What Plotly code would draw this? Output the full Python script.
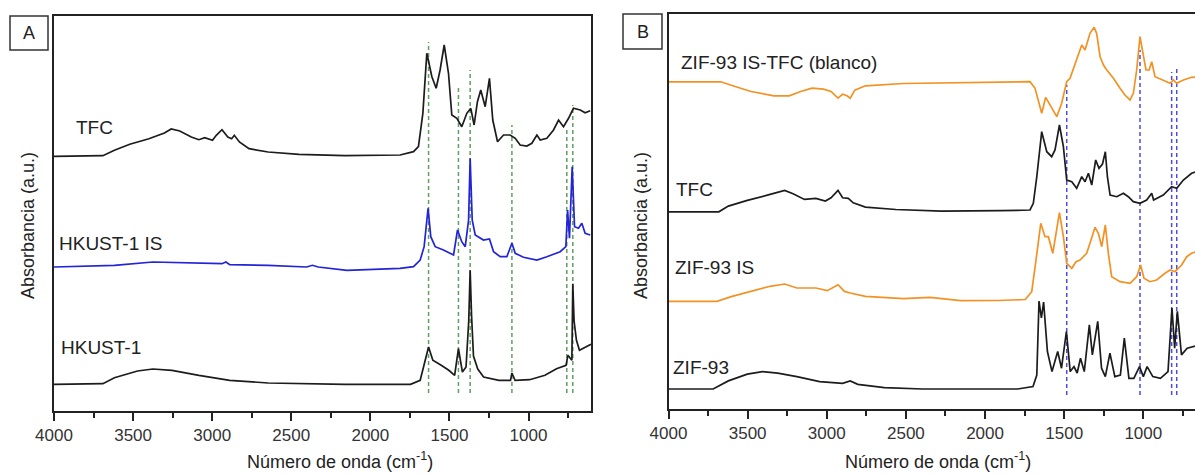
import plotly.graph_objects as go

# ---------------- Panel A data (wavenumber cm-1, absorbance a.u. offset) ----------------
tfc_a_wn = [4000, 3691, 3618, 3521, 3400, 3302, 3259, 3205, 3132, 3084, 3047, 2998, 2974, 2938, 2901, 2877,
            2860, 2828, 2767, 2646, 2451, 2160, 1812, 1727, 1696, 1668, 1643, 1611, 1584, 1559, 1533, 1506,
            1485, 1453, 1422, 1390, 1365, 1344, 1323, 1302, 1274, 1247, 1226, 1196, 1158, 1116, 1084, 1053,
            1011, 979, 947, 926, 884, 842, 810, 779, 747, 716, 673, 642, 610]
tfc_a_abs = [254.7, 255.3, 260.7, 266.7, 272.3, 278, 282, 280, 274, 271.3, 273.3, 270.7, 275.7, 281.3, 274, 272.3,
             275.7, 269, 262.3, 259, 256.7, 255.3, 256, 259.3, 264.3, 297.7, 357.7, 334.3, 322.7, 341, 366, 337.7,
             296, 292.7, 284.3, 297.7, 302.7, 286, 309.3, 321, 304.3, 332.7, 291, 269.3, 276, 276, 272.7, 266,
             265, 267.7, 276, 271, 272.7, 281, 291, 284.3, 292.7, 302.7, 301, 298.3, 300.3]

hk_is_wn = [4000, 3618, 3375, 3132, 2938, 2913, 2889, 2646, 2403, 2366, 2330, 2148, 1917, 1812, 1727, 1685,
            1660, 1635, 1618, 1590, 1538, 1474, 1449, 1422, 1400, 1379, 1369, 1356, 1337, 1285, 1247, 1221,
            1179, 1137, 1105, 1084, 1032, 947, 884, 800, 764, 753, 741, 724, 709, 684, 663, 642, 610]
hk_is_abs = [144, 145.7, 149, 148, 147.3, 149, 146.3, 145.7, 144, 145.7, 144, 140.7, 142.3, 142.7, 144.3, 151,
             164.3, 202.7, 174.3, 164.3, 161, 156, 181, 169.3, 164.3, 191, 252.7, 191, 176, 171, 172, 159.3,
             154.3, 154.3, 167.7, 157.7, 153.7, 151, 154.3, 159.3, 164.3, 201, 172.7, 244.3, 184.3, 182.7, 187.7, 177.7, 176]

hk_wn = [4000, 3691, 3618, 3472, 3375, 3254, 3084, 2889, 2646, 2354, 2160, 1746, 1685, 1632, 1605, 1552,
         1504, 1467, 1443, 1418, 1395, 1378, 1369, 1360, 1348, 1321, 1284, 1187, 1114, 1105, 1085, 993,
         896, 823, 763, 751, 726, 720, 712, 697, 678, 605]
hk_abs = [26.7, 27.3, 33.3, 40, 42, 40.7, 35.7, 30.7, 28, 27.3, 26.7, 26.7, 30.7, 64, 50.7, 45.7,
          40.7, 35.7, 62.3, 39, 44, 90, 140.7, 95, 55, 42, 34, 30.7, 30.7, 38, 30.7, 31.3,
          35.7, 42.3, 45.7, 55.7, 50.7, 127.3, 90, 70.7, 60.7, 66.7]

lines_a_wn = [1632, 1443, 1369, 1105, 758, 720]
lines_a_top = [369, 323, 341, 286, 284, 306]
lines_a_bottom = 18

# ---------------- Panel B data ----------------
zis_tfc_wn = [4000, 3670, 3574, 3478, 3334, 3237, 3165, 3093, 3021, 2973, 2929, 2900, 2872, 2852, 2823, 2756,
              2516, 2034, 1716, 1684, 1663, 1642, 1617, 1589, 1547, 1516, 1495, 1484, 1463, 1431, 1389, 1368,
              1337, 1311, 1295, 1273, 1252, 1231, 1189, 1147, 1116, 1084, 1063, 1042, 1021, 1004, 983, 963,
              947, 926, 874, 831, 810, 789, 747, 695, 670]
zis_tfc_abs = [327.2, 327.2, 322.2, 317.5, 313.2, 313.2, 317.5, 320.9, 319.9, 317.5, 310.8, 314.8, 313.2, 310.8, 318.8, 323.2,
               325.5, 326.5, 327.3, 320.7, 309, 295.7, 311.7, 304, 292.3, 305.7, 319, 327.3, 330.7, 345.7, 364, 359,
               375.7, 381.7, 375.7, 352.3, 344, 339, 330.7, 320.7, 314, 309, 315.7, 339, 372.3, 357.3, 339, 339,
               347.3, 332.3, 329, 325.7, 329, 325.7, 329, 331.7, 332]

tfc_b_wn = [4000, 3682, 3622, 3502, 3358, 3266, 3213, 3141, 3069, 3009, 2973, 2929, 2900, 2864, 2833, 2756,
            2564, 2275, 1905, 1716, 1695, 1673, 1642, 1610, 1579, 1558, 1530, 1505, 1484, 1452, 1421, 1389,
            1368, 1347, 1326, 1301, 1280, 1258, 1240, 1227, 1210, 1168, 1126, 1095, 1063, 1021, 979, 947,
            935, 874, 821, 789, 747, 695, 670]
tfc_b_abs = [197.2, 197.2, 202.9, 208.6, 214.6, 218.6, 215.2, 209.6, 210.6, 207.9, 211.2, 218.6, 211.2, 210.6, 206.2, 201.9,
             199.5, 197.9, 198.3, 199, 205.7, 232.3, 277.3, 257.3, 252.3, 259, 284, 262.3, 229, 227.3, 220.7, 232.3,
             227.3, 235.7, 224, 249, 240.7, 245, 257.3, 232.3, 214, 212.3, 215.7, 212.3, 207.3, 205.7, 209, 215.7,
             209, 214, 222.3, 220.7, 229, 235.7, 237]

zis_wn = [4000, 3694, 3598, 3478, 3358, 3266, 3189, 3069, 2997, 2929, 2888, 2852, 2756, 2516, 2347, 2155,
          1914, 1746, 1705, 1678, 1648, 1621, 1600, 1572, 1551, 1530, 1505, 1484, 1452, 1425, 1400, 1379,
          1358, 1337, 1305, 1284, 1263, 1240, 1221, 1200, 1147, 1084, 1042, 1017, 996, 958, 916, 863,
          831, 800, 758, 726, 695, 670]
zis_abs = [107.6, 107.6, 112.6, 117.6, 122.7, 125, 121, 121, 118.3, 124.3, 117.6, 116, 112.6, 110.3, 111.6, 108.3,
           108.5, 109.5, 117.3, 149, 185.7, 172.3, 172.3, 155.7, 175.7, 196.3, 172.3, 145.7, 140.7, 147.3, 149, 152.3,
           155.7, 165.7, 181.7, 175.7, 162.3, 184, 155.7, 132.3, 127.3, 125.7, 132.3, 144, 130.7, 127.3, 129, 135.7,
           139, 137.3, 144, 152.3, 155.7, 157]

zif_wn = [4000, 3718, 3622, 3502, 3406, 3310, 3189, 3045, 2900, 2852, 2804, 2636, 2395, 2034, 1794, 1697,
          1673, 1659, 1644, 1630, 1606, 1577, 1541, 1517, 1486, 1462, 1438, 1418, 1397, 1373, 1341, 1322,
          1288, 1264, 1240, 1211, 1180, 1145, 1120, 1091, 1060, 1024, 1000, 976, 940, 892, 844, 819,
          802, 785, 759, 723, 690, 670]
zif_abs = [20, 20, 28.1, 34.8, 37.4, 35.8, 32.4, 27.4, 25.7, 28.1, 24.7, 21.4, 20, 20, 20, 22.4,
           34, 108, 91, 107, 57.5, 37.4, 57.5, 40.8, 77.5, 37.4, 42.4, 36, 50.8, 37.4, 84.2, 54.1,
           87.6, 40.8, 32.4, 55.8, 32.4, 34, 70.9, 30.7, 30.7, 42.4, 32.4, 42.4, 32.4, 30.7, 37.4, 101,
           60.8, 97.6, 54.1, 60.8, 62, 63]

lines_b_wn = [1484, 1021, 821, 789]
lines_b_top = [324, 359, 337, 342]
lines_b_bottom = 14

tick_vals = [4000, 3500, 3000, 2500, 2000, 1500, 1000]
tick_text = ["4000", "3500", "3000", "2500", "2000", "1500", "1000"]

labels_a = ["TFC", "HKUST-1 IS", "HKUST-1"]
labels_a_pos = [(3873, 283), (3981, 168), (3971, 64)]
labels_b = ["ZIF-93 IS-TFC (blanco)", "TFC", "ZIF-93 IS", "ZIF-93"]
labels_b_pos = [(3935, 347), (3966, 220), (3971, 141.6), (3983, 41.4)]

x_title = "Número de onda (cm<sup>-1</sup>)"
y_title = "Absorbancia (a.u.)"

BLACK = "#1c1c1c"
BLUE = "#2323d8"
ORANGE = "#f39224"
GREEN = "#5f9f5f"
DBLUE = "#4b4bdc"
FONT = "Liberation Sans, Arial, sans-serif"

W, H = 1195, 475

fig = go.Figure()

def spec(xs, ys, color, xa, ya):
    fig.add_trace(go.Scatter(x=xs, y=ys, mode="lines", line=dict(color=color, width=1.7),
                             xaxis=xa, yaxis=ya, showlegend=False, hoverinfo="skip"))

# dashed guide lines
for wn, top in zip(lines_a_wn, lines_a_top):
    fig.add_trace(go.Scatter(x=[wn, wn], y=[lines_a_bottom, top], mode="lines",
                             line=dict(color=GREEN, width=1.5, dash="4px,3px"),
                             xaxis="x", yaxis="y", showlegend=False, hoverinfo="skip"))
for wn, top in zip(lines_b_wn, lines_b_top):
    fig.add_trace(go.Scatter(x=[wn, wn], y=[lines_b_bottom, top], mode="lines",
                             line=dict(color=DBLUE, width=1.5, dash="4px,3px"),
                             xaxis="x2", yaxis="y2", showlegend=False, hoverinfo="skip"))

spec(tfc_a_wn, tfc_a_abs, BLACK, "x", "y")
spec(hk_is_wn, hk_is_abs, BLUE, "x", "y")
spec(hk_wn, hk_abs, BLACK, "x", "y")

spec(zis_tfc_wn, zis_tfc_abs, ORANGE, "x2", "y2")
spec(tfc_b_wn, tfc_b_abs, BLACK, "x2", "y2")
spec(zis_wn, zis_abs, ORANGE, "x2", "y2")
spec(zif_wn, zif_abs, BLACK, "x2", "y2")

ax_common = dict(
    tickmode="array", tickvals=tick_vals, ticktext=tick_text,
    ticks="outside", ticklen=8, tickwidth=1.5, tickcolor="#222",
    showgrid=False, zeroline=False, showline=True, linecolor="#222", linewidth=2,
    tickfont=dict(family=FONT, size=17, color="#333"), automargin=False,
    minor=dict(ticks="outside", ticklen=5, tickwidth=1.5, tickcolor="#222", dtick=250, tick0=4000, showgrid=False),
)
yax_common = dict(showticklabels=False, ticks="", showgrid=False, zeroline=False, automargin=False,
                  showline=True, linecolor="#222", linewidth=2, range=[0, 395])

xA0, xA1 = 54 / W, 591 / W
yA0, yA1 = (H - 411) / H, (H - 16) / H
xB0, xB1 = 668.5 / W, 1.0
yB0, yB1 = (H - 409) / H, (H - 14) / H

fig.update_layout(
    width=W, height=H, margin=dict(l=0, r=0, t=0, b=0, autoexpand=False),
    paper_bgcolor="white", plot_bgcolor="white",
    xaxis=dict(domain=[xA0, xA1], range=[4000, 605], mirror=True, anchor="y", **ax_common),
    yaxis=dict(domain=[yA0, yA1], anchor="x", mirror=True, **yax_common),
    xaxis2=dict(domain=[xB0, xB1], range=[4000, 673.5], mirror=True, anchor="y2", **ax_common),
    yaxis2=dict(domain=[yB0, yB1], anchor="x2", mirror=False, **yax_common),
)

annotations = []
for txt, (x, y) in zip(labels_a, labels_a_pos):
    annotations.append(dict(x=x, y=y, xref="x", yref="y", text=txt, showarrow=False,
                            xanchor="left", yanchor="middle",
                            font=dict(family=FONT, size=19, color="#222")))
for txt, (x, y) in zip(labels_b, labels_b_pos):
    annotations.append(dict(x=x, y=y, xref="x2", yref="y2", text=txt, showarrow=False,
                            xanchor="left", yanchor="middle",
                            font=dict(family=FONT, size=19, color="#222")))

# axis titles
for cx in (340, 938):
    annotations.append(dict(x=cx / W, y=1 - 460 / H, xref="paper", yref="paper", text=x_title,
                            showarrow=False, xanchor="center", yanchor="middle",
                            font=dict(family=FONT, size=18, color="#222")))
for cx in (28, 641):
    annotations.append(dict(x=cx / W, y=1 - 226 / H, xref="paper", yref="paper", text=y_title,
                            showarrow=False, xanchor="center", yanchor="middle", textangle=-90,
                            font=dict(family=FONT, size=18, color="#222")))

# panel letters in boxes
for letter, (x0, y0, x1, y1) in [("A", (10, 16, 48, 50)), ("B", (623, 14, 662, 49))]:
    fig.add_shape(type="rect", xref="paper", yref="paper",
                  x0=x0 / W, x1=x1 / W, y0=1 - y1 / H, y1=1 - y0 / H,
                  line=dict(color="#333", width=1.5), fillcolor="white")
    annotations.append(dict(x=(x0 + x1) / 2 / W, y=1 - (y0 + y1) / 2 / H, xref="paper", yref="paper",
                            text=letter, showarrow=False, xanchor="center", yanchor="middle",
                            font=dict(family=FONT, size=18, color="#222")))

fig.update_layout(annotations=annotations)
fig.write_html("out.html", config={"displayModeBar": False},
               post_script="document.body.style.margin='0';document.body.style.overflow='hidden';")
